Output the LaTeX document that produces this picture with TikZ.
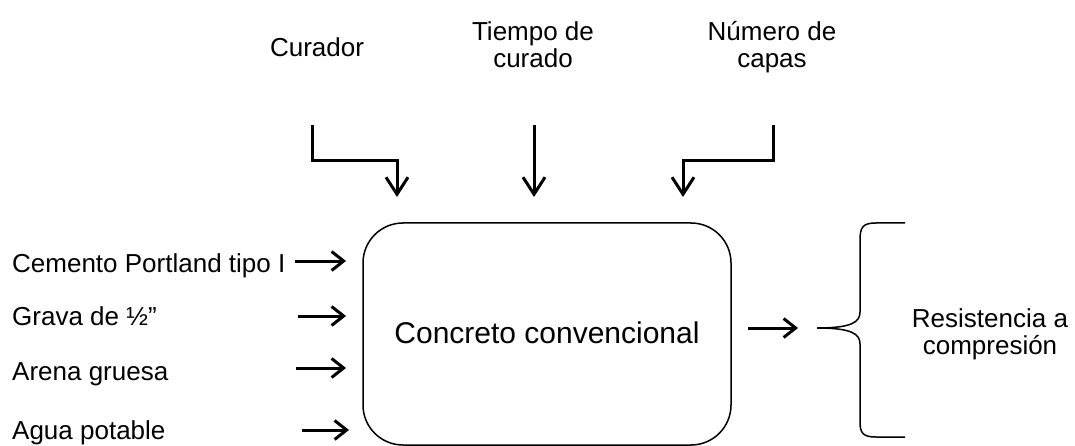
\documentclass[tikz,border=0pt]{standalone}
\usepackage{fontspec}
\setmainfont{Liberation Sans}
\usetikzlibrary{arrows.meta}
\begin{document}
\begin{tikzpicture}[x=1pt,y=-1pt,
  lbl/.style={inner sep=0pt,font=\fontsize{26}{27}\selectfont},
  toparrow/.style={line width=3pt,-{Straight Barb[length=17pt,width=22pt]}},
  sidearrow/.style={line width=3pt,-{Straight Barb[length=12pt,width=19pt]}},
  boxstyle/.style={draw,line width=1.5pt,rounded corners=40pt},
  bracestyle/.style={line width=1.5pt}]
\useasboundingbox (0,0) rectangle (1075,446);
% top labels
\node[lbl,anchor=base] (cur) at (317,57) {Curador};
\node[lbl,anchor=base,align=center] (tie) at (533,68) {Tiempo de\\curado};
\node[lbl,anchor=base,align=center] (num) at (772,68) {Número de\\capas};
% box
\draw[boxstyle] (363,223) rectangle (731,445);
\node[inner sep=0pt,anchor=base,font=\fontsize{30}{34}\selectfont] (box) at (547,343) {Concreto convencional};
% left labels
\node[lbl,anchor=base west] (cem) at (12,272) {Cemento Portland tipo I};
\node[lbl,anchor=base west] (gra) at (12,325) {Grava de ½”};
\node[lbl,anchor=base west] (are) at (12,380) {Arena gruesa};
\node[lbl,anchor=base west] (agu) at (12,439) {Agua potable};
% right label
\node[lbl,anchor=base,align=center] (res) at (990,354) {Resistencia a\\compresión};
% coordinates for connectors
\coordinate (a1s) at (312,125); \coordinate (a1k) at (397,161); \coordinate (a1e) at (397,197);
\coordinate (a2s) at (534,125); \coordinate (a2e) at (534,197);
\coordinate (a3s) at (773,125); \coordinate (a3k) at (683,161); \coordinate (a3e) at (683,197);
\coordinate (l1s) at (295,261); \coordinate (l1e) at (346,261);
\coordinate (l2s) at (298,316); \coordinate (l2e) at (346,316);
\coordinate (l3s) at (296,368); \coordinate (l3e) at (346,368);
\coordinate (l4s) at (302,430); \coordinate (l4e) at (349,430);
\coordinate (os) at (748,328); \coordinate (oe) at (798,328);
% top arrows
\draw[toparrow,line join=miter] (a1s) |- (a1k) -- (a1e);
\draw[toparrow] (a2s) -- (a2e);
\draw[toparrow,line join=miter] (a3s) |- (a3k) -- (a3e);
% side arrows
\draw[sidearrow] (l1s) -- (l1e);
\draw[sidearrow] (l2s) -- (l2e);
\draw[sidearrow] (l3s) -- (l3e);
\draw[sidearrow] (l4s) -- (l4e);
\draw[sidearrow] (os) -- (oe);
% brace
\coordinate (bt) at (817,328);
\draw[bracestyle] (905,223) -- (876,223) .. controls (863,223) and (860,227) .. (860,240) -- (860,312)
  .. controls (860,322) and (852,328) .. (bt)
  .. controls (852,328) and (860,334) .. (860,344) -- (860,422)
  .. controls (860,433) and (863,437) .. (876,437) -- (905,437);
\end{tikzpicture}
\end{document}
